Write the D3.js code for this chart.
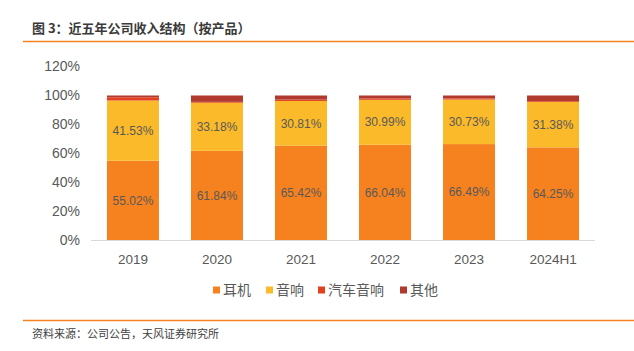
<!DOCTYPE html>
<html>
<head>
<meta charset="utf-8">
<script src="https://cdn.jsdelivr.net/npm/d3@7"></script>
<style>
  body { margin: 0; background: #fff; }
  text { font-family: "Liberation Sans", Arial, "Noto Sans CJK SC", sans-serif; }
  .cjk { font-family: "Noto Sans CJK SC", sans-serif; }
</style>
</head>
<body>
<div id="chart-area"></div>
<script>
const years = ["2019", "2020", "2021", "2022", "2023", "2024H1"];
const earphone = [55.02, 61.84, 65.42, 66.04, 66.49, 64.25];
const speaker = [41.53, 33.18, 30.81, 30.99, 30.73, 31.38];
const carAudio = [2.2, 0.6, 0.95, 0.97, 0.8, 0.55];
const other = [1.25, 4.38, 2.82, 2.0, 1.98, 3.82];
const yTicks = [0, 20, 40, 60, 80, 100, 120];
const seriesNames = ["耳机", "音响", "汽车音响", "其他"];
const seriesColors = ["#F5821F", "#FBBA29", "#E2401E", "#B03A2E"];

const chartSize = { width: 634, height: 351 };
const textColor = "#595959";

const svg = d3.select("#chart-area")
    .append("svg")
    .attr("width", chartSize.width)
    .attr("height", chartSize.height);

// title + rules
svg.append("text")
    .attr("class", "cjk")
    .attr("x", 32).attr("y", 33)
    .attr("font-size", 13).attr("font-weight", "bold")
    .attr("fill", "#3a3a3a")
    .text("图 3：近五年公司收入结构（按产品）");
svg.append("line")
    .attr("x1", 23).attr("x2", 634).attr("y1", 41.5).attr("y2", 41.5)
    .attr("stroke", "#F58220").attr("stroke-width", 1.5);
svg.append("line")
    .attr("x1", 23).attr("x2", 634).attr("y1", 320.5).attr("y2", 320.5)
    .attr("stroke", "#F58220").attr("stroke-width", 1.5);
svg.append("text")
    .attr("class", "cjk")
    .attr("x", 32).attr("y", 338)
    .attr("font-size", 11).attr("fill", "#404040")
    .text("资料来源：公司公告，天风证券研究所");

const x = d3.scaleBand()
    .domain(years)
    .range([91, 595])
    .paddingInner(0.381)
    .paddingOuter(0.19);
const y = d3.scaleLinear().domain([0, 120]).range([240.5, 66.5]);

const rows = years.map((yr, i) => ({
    year: yr, s0: earphone[i], s1: speaker[i], s2: carAudio[i], s3: other[i]
}));
const stack = d3.stack().keys(["s0", "s1", "s2", "s3"])(rows);

// y labels
svg.append("g").selectAll("text")
    .data(yTicks)
    .join("text")
    .attr("x", 80)
    .attr("y", d => y(d))
    .attr("dy", "0.35em")
    .attr("text-anchor", "end")
    .attr("font-size", 14)
    .attr("fill", textColor)
    .text(d => d + "%");

// bars
const layers = svg.append("g").selectAll("g")
    .data(stack)
    .join("g")
    .attr("fill", (d, i) => seriesColors[i]);
layers.selectAll("rect")
    .data(d => d)
    .join("rect")
    .attr("x", d => x(d.data.year))
    .attr("width", x.bandwidth())
    .attr("y", d => y(d[1]))
    .attr("height", d => y(d[0]) - y(d[1]));

// baseline
svg.append("line")
    .attr("x1", 91).attr("x2", 595)
    .attr("y1", y(0)).attr("y2", y(0))
    .attr("stroke", "#d9d9d9").attr("stroke-width", 1);

// value labels for the two big series
stack.slice(0, 2).forEach(layer => {
    svg.append("g").selectAll("text")
        .data(layer)
        .join("text")
        .attr("x", d => x(d.data.year) + x.bandwidth() / 2)
        .attr("y", d => y((d[0] + d[1]) / 2))
        .attr("dy", "0.35em")
        .attr("text-anchor", "middle")
        .attr("font-size", 12)
        .attr("fill", textColor)
        .text(d => (d[1] - d[0]).toFixed(2) + "%");
});

// x labels
svg.append("g").selectAll("text")
    .data(years)
    .join("text")
    .attr("x", d => x(d) + x.bandwidth() / 2)
    .attr("y", 264)
    .attr("text-anchor", "middle")
    .attr("font-size", 13.5)
    .attr("fill", textColor)
    .text(d => d);

// legend
const legendX = [213, 266, 318, 400];
const legend = svg.append("g").selectAll("g")
    .data(seriesNames)
    .join("g")
    .attr("transform", (d, i) => `translate(${legendX[i]},290)`);
legend.append("rect")
    .attr("x", 0).attr("y", -3.5)
    .attr("width", 7).attr("height", 7)
    .attr("fill", (d, i) => seriesColors[i]);
legend.append("text")
    .attr("class", "cjk")
    .attr("x", 10).attr("y", 0)
    .attr("dy", "0.35em")
    .attr("font-size", 14)
    .attr("fill", textColor)
    .text(d => d);
</script>
</body>
</html>
